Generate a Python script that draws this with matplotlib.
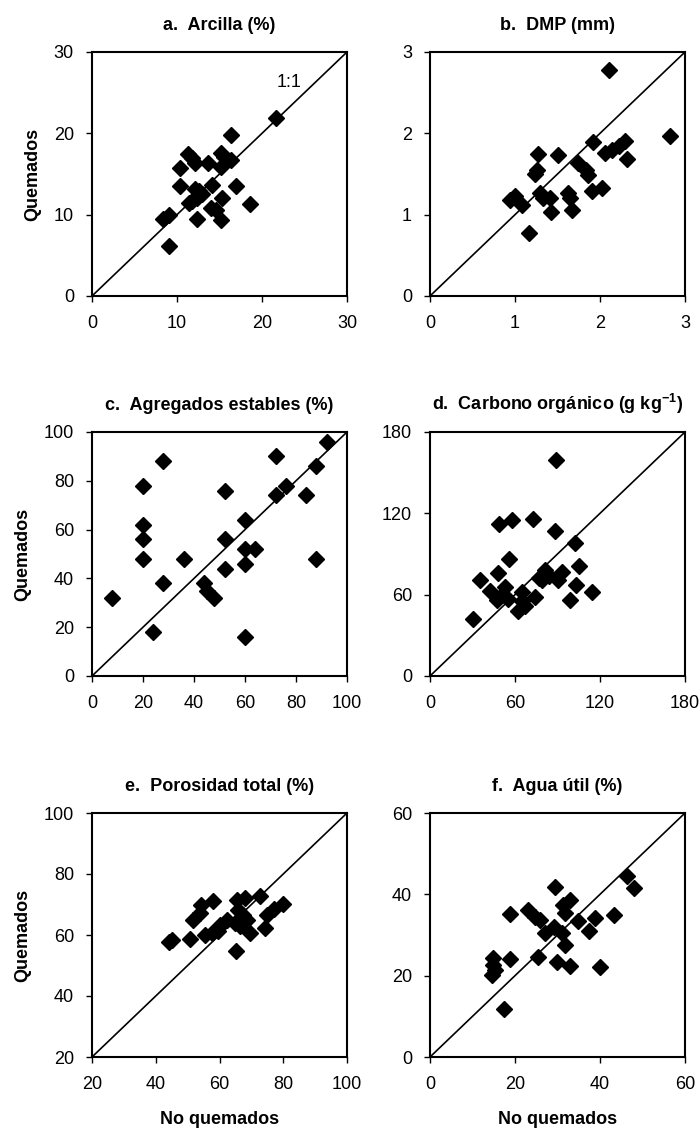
import matplotlib
matplotlib.use("Agg")
import matplotlib.pyplot as plt

plt.rcParams['font.family'] = ['Liberation Sans', 'DejaVu Sans']
plt.rcParams['mathtext.fontset'] = 'custom'
plt.rcParams['mathtext.rm'] = 'Liberation Sans:bold'
plt.rcParams['mathtext.default'] = 'rm'

# a. Arcilla (%)
a_nq = [21.7, 16.3, 11.3, 11.8, 12.1, 13.6, 10.4, 15.2, 15.5, 16.4, 15.2, 10.3, 12.1, 12.6, 14.1,
        16.9, 11.8, 12.4, 15.3, 18.6, 14.0, 14.6, 15.2, 12.3, 8.4, 9.1, 9.0, 13.0, 11.4]
a_q = [21.9, 19.8, 17.4, 17.0, 16.3, 16.3, 15.7, 17.6, 17.1, 16.7, 15.8, 13.5, 13.2, 12.9, 13.7,
       13.5, 11.7, 12.0, 12.1, 11.3, 10.8, 10.6, 9.3, 9.5, 9.5, 10.0, 6.2, 12.5, 11.4]

# b. DMP (mm)
b_nq = [2.11, 2.82, 1.92, 2.29, 2.22, 2.14, 2.06, 2.32, 1.27, 1.51, 1.26, 1.23, 1.74, 1.83,
        1.86, 2.02, 1.90, 1.62, 1.65, 1.67, 1.42, 1.41, 1.29, 1.33, 1.00, 0.94, 1.08, 1.17]
b_q = [2.78, 1.97, 1.89, 1.91, 1.85, 1.80, 1.76, 1.68, 1.74, 1.73, 1.55, 1.50, 1.64, 1.55,
       1.49, 1.33, 1.29, 1.27, 1.20, 1.06, 1.03, 1.20, 1.27, 1.20, 1.23, 1.18, 1.12, 0.78]

# c. Agregados estables (%)
c_nq = [92, 72, 28, 88, 20, 76, 52, 72, 84, 60, 20, 20, 52, 20, 36, 60, 64, 88, 60, 52,
        28, 44, 45, 48, 8, 24, 60]
c_q = [96, 90, 88, 86, 78, 78, 76, 74, 74, 64, 62, 56, 56, 48, 48, 52, 52, 48, 46, 44,
       38, 38, 35, 32, 32, 18, 16]

# d. Carbono organico (g kg-1)
d_nq = [89, 49, 58, 73, 88, 102, 56, 105, 48, 35, 42, 53, 51, 47, 55, 65, 65, 62, 74, 77,
        81, 79, 93, 90, 103, 99, 114, 30, 84, 67]
d_q = [159, 112, 115, 116, 107, 98, 86, 81, 76, 71, 63, 66, 60, 56, 57, 62, 55, 48, 58, 72,
       78, 71, 77, 71, 67, 56, 62, 42, 74, 52]

# e. Porosidad total (%)
e_nq = [44.1, 45.0, 50.6, 54.3, 58.0, 51.7, 53.8, 55.4, 57.5, 60.1, 59.6, 65.4, 68.0, 65.9,
        67.5, 64.9, 66.4, 69.6, 72.8, 74.4, 75.0, 77.0, 79.9, 65.2, 68.5, 62.2]
e_q = [57.6, 58.5, 58.7, 69.9, 71.0, 65.0, 67.2, 60.1, 60.7, 63.4, 61.2, 71.6, 72.1, 68.3,
       66.7, 63.9, 62.8, 60.7, 72.9, 62.3, 66.7, 68.5, 70.3, 54.6, 65.0, 65.0]

# f. Agua util (%)
f_nq = [46.4, 48.0, 29.4, 33.0, 31.4, 31.8, 18.8, 23.1, 24.7, 25.9, 34.8, 38.9, 43.2, 29.1,
        27.1, 31.0, 37.5, 31.8, 25.5, 18.8, 14.9, 14.9, 14.5, 29.8, 33.0, 40.1, 17.5, 15.3]
f_q = [44.4, 41.6, 41.8, 38.5, 37.4, 35.4, 35.2, 36.1, 34.4, 33.8, 33.5, 34.2, 35.0, 31.9,
       30.5, 30.5, 30.9, 27.6, 24.5, 24.2, 24.3, 22.7, 20.2, 23.3, 22.5, 22.1, 11.8, 21.4]

panels = [
    ("a.  Arcilla (%)", a_nq, a_q, (0, 30), [0, 10, 20, 30]),
    ("b.  DMP (mm)", b_nq, b_q, (0, 3), [0, 1, 2, 3]),
    ("c.  Agregados estables (%)", c_nq, c_q, (0, 100), [0, 20, 40, 60, 80, 100]),
    (r"d.  Carbono orgánico (g kg$^{-1}$)", d_nq, d_q, (0, 180), [0, 60, 120, 180]),
    ("e.  Porosidad total (%)", e_nq, e_q, (20, 100), [20, 40, 60, 80, 100]),
    ("f.  Agua útil (%)", f_nq, f_q, (0, 60), [0, 20, 40, 60]),
]

fig = plt.figure(figsize=(7, 11.34), dpi=100)
W, H = 700, 1134
lefts = [92, 430]
tops = [52, 432, 813]
aw, ah = 255, 244

for i, (title, xs, ys, lim, ticks) in enumerate(panels):
    row, col = divmod(i, 2)
    x0 = lefts[col]
    y0 = tops[row]
    ax = fig.add_axes([x0 / W, 1 - (y0 + ah) / H, aw / W, ah / H])
    ax.plot(lim, lim, color='black', lw=1.2, zorder=1)
    ax.plot(xs, ys, linestyle='none', marker='D', markersize=8.3,
            color='black', zorder=2)
    ax.set_xlim(lim)
    ax.set_ylim(lim)
    ax.set_xticks(ticks)
    ax.set_yticks(ticks)
    ax.tick_params(direction='out', length=4, width=1, labelsize=13)
    ax.tick_params(axis='x', pad=10)
    ax.tick_params(axis='y', pad=9)
    for s in ax.spines.values():
        s.set_linewidth(1.5)
    ax.set_title(title, fontsize=13, fontweight='bold', pad=16)
    if col == 0:
        ax.set_ylabel("Quemados", fontsize=13, fontweight='bold', labelpad=9)
    if row == 2:
        ax.set_xlabel("No quemados", fontsize=13, fontweight='bold', labelpad=13)
    if i == 0:
        ax.text(23.2, 26.2, "1:1", fontsize=13, ha='center', va='center')

fig.savefig("out.png", dpi=100)
